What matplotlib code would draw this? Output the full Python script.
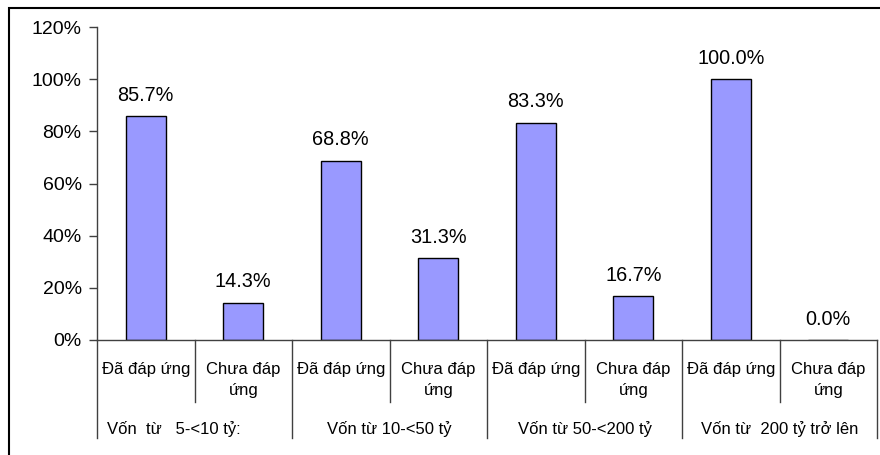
import matplotlib
matplotlib.use("Agg")
import matplotlib.pyplot as plt
from matplotlib.patches import Rectangle
from matplotlib.transforms import blended_transform_factory

plt.rcParams['font.family'] = ['Liberation Sans', 'DejaVu Sans']

# Data
groups = ["Vốn  từ   5-<10 tỷ:", "Vốn từ 10-<50 tỷ", "Vốn từ 50-<200 tỷ", "Vốn từ  200 tỷ trở lên"]
statuses = ["Đã đáp ứng", "Chưa đáp\nứng"]
values = [85.7, 14.3, 68.8, 31.3, 83.3, 16.7, 100.0, 0.0]
y_ticks = [0, 20, 40, 60, 80, 100, 120]

W, H = 880, 455
fig = plt.figure(figsize=(W / 100, H / 100), dpi=100)
ax = fig.add_axes([97 / W, (H - 340) / H, (877 - 97) / W, (340 - 27) / H])

n = len(values)
x = list(range(n))
ax.bar(x, values, width=0.41, color="#9999FF", edgecolor="black", linewidth=1.0)

for xi, v in zip(x, values):
    ax.annotate(f"{v:.1f}%", (xi, v), xytext=(0, 15), textcoords="offset points",
                ha="center", va="center", fontsize=14.3, color="black")

ax.set_xlim(-0.5, n - 0.5)
ax.set_ylim(0, 120)
ax.set_yticks(y_ticks)
ax.set_yticklabels([f"{t}%" for t in y_ticks], fontsize=14)
ax.tick_params(axis="y", direction="out", length=6, width=1, color="#404040", pad=5)
ax.set_xticks([])
for s in ["top", "right"]:
    ax.spines[s].set_visible(False)
for s in ["left", "bottom"]:
    ax.spines[s].set_color("#404040")
    ax.spines[s].set_linewidth(1.0)

ax_h = 340 - 27
trans = blended_transform_factory(ax.transData, ax.transAxes)

# Category and group separator lines below the axis
for b in [i + 0.5 for i in range(-1, n)]:
    is_group = (int(b + 0.5) % 2 == 0)
    depth = 98 if is_group else 62
    ax.plot([b, b], [0, -depth / ax_h], transform=trans, color="#404040",
            lw=1.0, clip_on=False)

# Status labels, one text per line so baselines line up across categories
for i in range(n):
    for k, line in enumerate(statuses[i % 2].split("\n")):
        ax.text(i, -(34 + 21 * k) / ax_h, line, transform=trans,
                ha="center", va="baseline", fontsize=12)

# Group labels
for g, name in enumerate(groups):
    if g == 0:
        ax.text(-0.5 + 10 / 97.5, -94 / ax_h, name, transform=trans,
                ha="left", va="baseline", fontsize=12)
    else:
        ax.text(2 * g + 0.5, -94 / ax_h, name, transform=trans,
                ha="center", va="baseline", fontsize=12)

# Chart area border
fig.patches.append(Rectangle((9 / W, -0.1), 1.0, 1 - 8 / H + 0.1,
                             transform=fig.transFigure, fill=False,
                             edgecolor="black", linewidth=1.5))

fig.savefig("out.png", dpi=100)
